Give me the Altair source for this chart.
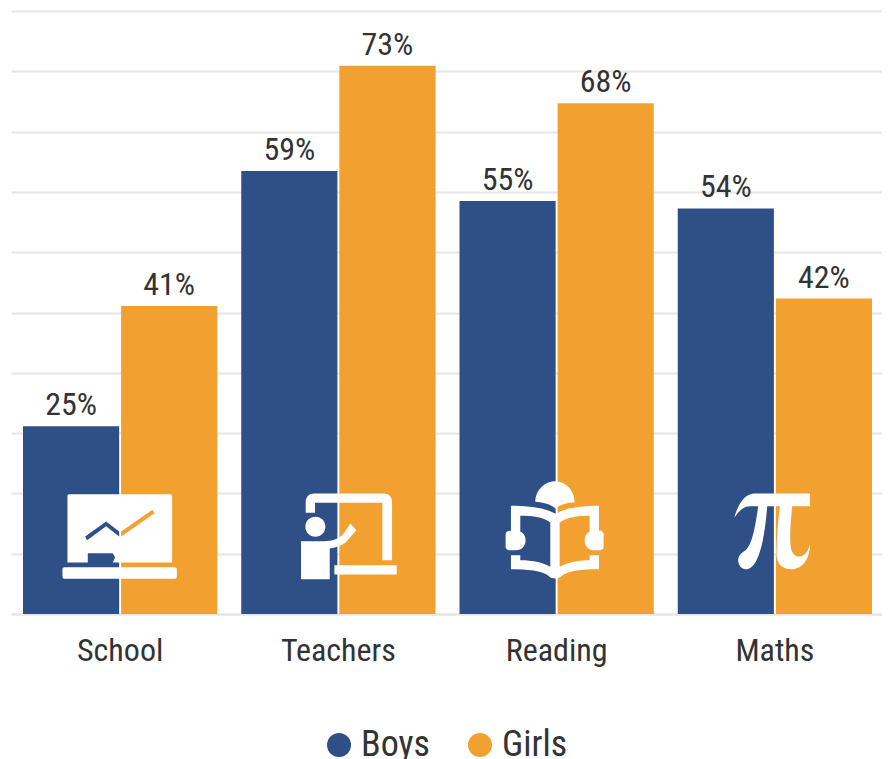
import re
import altair as alt
import pandas as pd

CATEGORIES = ["School", "Teachers", "Reading", "Maths"]
BOYS = [25, 59, 55, 54]
GIRLS = [41, 73, 68, 42]
TICKS = [0, 8.03, 16.06, 24.09, 32.12, 40.15, 48.18, 56.21, 64.24, 72.27, 80.3]
ICON_LEVEL = [10.5, 10.5, 10.5, 10.5]
FONT = "Roboto Condensed"
BLUE = "#2f4f87"
ORANGE = "#f2a030"
GRID = "#e6e6e6"
TEXT = "#333333"


def icon(path, cx, cy):
    """Shape outline traced at 3x, recentred to a unit of one pixel."""
    vals = iter(range(10000))
    def sub(m):
        i = next(vals)
        c = cx if i % 2 == 0 else cy
        return f"{(float(m.group()) - c) / 3:.2f}"
    return re.sub(r"-?\d+(\.\d+)?", sub, path)


SCHOOL = icon(
    "M82,78 C82,74 84,72 88,72 L390,72 C394,72 396,74 396,78 L396,277 L218,277 L225,262 L218,249 "
    "L143,249 L143,277 L82,277 Z "
    "M141,210 L198,168 L240,201 L343,129 L337,119 L240,186 L198,154 L135,199 Z "
    "M73,291 L404,291 C408,291 410,293 410,297 L410,320 C410,324 408,326 404,326 L73,326 "
    "C69,326 67,324 67,320 L67,297 C67,293 69,291 73,291 Z",
    240, 195)
TEACHER = icon(
    "M796,128 L796,95 C796,80 806,70 822,70 L1030,70 C1045,70 1055,80 1055,95 L1055,270 L1026,270 "
    "L1026,98 L824,98 L824,128 Z "
    "M795,170 C795,153 808,140 825,140 C842,140 855,153 855,170 C855,187 842,200 825,200 "
    "C808,200 795,187 795,170 Z "
    "M782,213 L850,213 C875,213 895,208 910,190 L930,160 L948,180 L915,218 C900,228 885,233 868,235 "
    "L868,327 L782,327 Z "
    "M882,285 L1069,285 L1069,313 L882,313 Z",
    894, 195)
BOOK = icon(
    "M94,107 C140,107 195,112 226,130 L230,130 C260,112 310,107 358,107 L358,185 L330,185 L330,137 "
    "C300,137 265,140 240,157 L240,300 L212,300 L212,157 C190,140 155,137 122,137 L122,185 L94,185 Z "
    "M94,255 L122,255 L122,270 C160,270 195,278 212,290 L240,290 C258,278 295,270 330,270 L330,255 "
    "L358,255 L358,297 C310,297 265,300 245,318 C238,327 215,327 208,318 C190,300 140,297 94,297 Z "
    "M90,182 L110,182 C128,182 138,195 138,210 C138,228 125,240 110,240 L88,240 C82,240 78,235 78,230 "
    "L78,192 C78,186 84,182 90,182 Z "
    "M342,182 L362,182 C368,182 372,186 372,192 L372,230 C372,235 368,240 362,240 L342,240 "
    "C327,240 315,228 315,210 C315,195 325,182 342,182 Z "
    "M167,95 C167,60 195,33 226,33 C258,33 285,60 285,97 C265,97 243,102 228,115 C213,102 190,97 167,95 Z",
    231, 195)
PI = icon(
    "M763,143 C775,100 795,70 825,70 L990,70 L990,108 L937,108 C932,160 930,190 932,225 "
    "C935,255 950,262 965,258 C978,252 985,240 990,222 C990,270 965,297 935,297 "
    "C905,297 890,280 890,250 C890,200 895,150 900,108 L862,108 C858,160 850,230 830,270 "
    "C820,290 808,297 798,297 C785,297 775,285 775,270 C775,255 785,248 797,240 "
    "C815,225 825,180 835,108 L810,108 C790,108 775,125 763,143 Z",
    885, 195)
ICONS = [SCHOOL, TEACHER, BOOK, PI]

rows = []
for c, b, g in zip(CATEGORIES, BOYS, GIRLS):
    rows.append({"cat": c, "series": "Boys", "value": b, "label": f"{b}%"})
    rows.append({"cat": c, "series": "Girls", "value": g, "label": f"{g}%"})
df = pd.DataFrame(rows)
icons_df = pd.DataFrame({"cat": CATEGORIES, "level": ICON_LEVEL, "path": ICONS})

x = alt.X(
    "cat:N",
    sort=CATEGORIES,
    title=None,
    scale=alt.Scale(paddingInner=0.11, paddingOuter=0.055, range=[0, 873]),
    axis=alt.Axis(
        labelFont=FONT, labelFontSize=32, labelColor=TEXT, labelAngle=0,
        labelPadding=21, ticks=False, domainColor=GRID, domainWidth=2, grid=False,
    ),
)
y = alt.Y(
    "value:Q",
    title=None,
    scale=alt.Scale(domain=[0, 80.3], nice=False),
    axis=alt.Axis(values=TICKS, labels=False, ticks=False, domain=False,
                  grid=True, gridColor=GRID, gridWidth=2),
)
xoff = alt.XOffset("series:N", sort=["Boys", "Girls"], scale=alt.Scale(paddingInner=0.02))
color = alt.Color(
    "series:N",
    sort=["Boys", "Girls"],
    scale=alt.Scale(domain=["Boys", "Girls"], range=[BLUE, ORANGE]),
    legend=alt.Legend(
        title=None, orient="none", legendX=310, legendY=716, direction="horizontal",
        symbolType="circle", symbolSize=576, symbolStrokeWidth=0, symbolOpacity=1,
        labelFont=FONT, labelFontSize=36, labelColor=TEXT, labelLimit=200,
        columnPadding=32, labelOffset=4, rowPadding=0,
    ),
)

bars = alt.Chart(df).mark_bar(opacity=1).encode(x=x, xOffset=xoff, y=y, color=color)
labels = alt.Chart(df).mark_text(
    font=FONT, fontSize=32, color=TEXT, baseline="bottom", dy=-4
).encode(x=x, xOffset=xoff, y=y, text="label:N")
pictos = alt.Chart(icons_df).mark_point(
    filled=True, opacity=1, size=4, color="white", strokeWidth=0
).encode(
    x=alt.X("cat:N", sort=CATEGORIES),
    y=alt.Y("level:Q"),
    shape=alt.Shape("path:N", scale=None),
)

chart = (
    alt.layer(bars, labels, pictos)
    .properties(
        width=871, height=603,
        autosize=alt.AutoSizeParams(type="none"),
        padding={"left": 3, "top": 3, "right": 0, "bottom": 145},
    )
    .configure_view(stroke=None)
    .configure_axis(labelFontWeight="normal")
)
chart.save("out.html", embed_options={"renderer": "svg", "actions": False})
